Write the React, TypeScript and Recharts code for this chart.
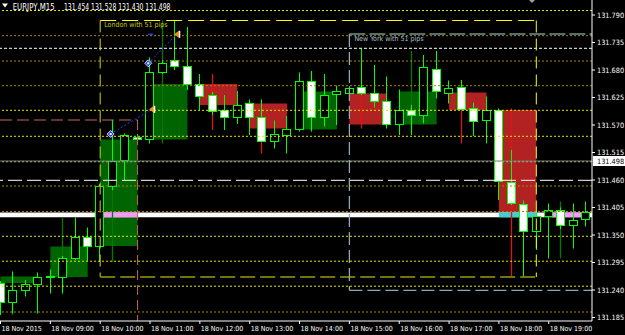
import React from "react";
import {
  ComposedChart,
  Bar,
  XAxis,
  YAxis,
  ReferenceLine,
  ReferenceArea,
  ReferenceDot,
} from "recharts";

// ---------------- DATA ----------------
const times = [
  "08:00", "08:15", "08:30", "08:45", "09:00", "09:15", "09:30", "09:45",
  "10:00", "10:15", "10:30", "10:45", "11:00", "11:15", "11:30", "11:45",
  "12:00", "12:15", "12:30", "12:45", "13:00", "13:15", "13:30", "13:45",
  "14:00", "14:15", "14:30", "14:45", "15:00", "15:15", "15:30", "15:45",
  "16:00", "16:15", "16:30", "16:45", "17:00", "17:15", "17:30", "17:45",
  "18:00", "18:15", "18:30", "18:45", "19:00", "19:15", "19:30", "19:45",
];
const opens = [
  131.254, 131.215, 131.239, 131.251, 131.266, 131.267, 131.303, 131.345,
  131.328, 131.448, 131.5, 131.546, 131.541, 131.675, 131.699, 131.689,
  131.652, 131.63, 131.6, 131.585, 131.613, 131.585, 131.537, 131.551,
  131.561, 131.658, 131.585, 131.631, 131.633, 131.645, 131.635, 131.618,
  131.571, 131.6, 131.589, 131.683, 131.635, 131.645, 131.603, 131.579,
  131.6, 131.455, 131.412, 131.357, 131.387, 131.4, 131.37, 131.381,
];
const highs = [
  131.258, 131.277, 131.26, 131.275, 131.281, 131.308, 131.385, 131.365,
  131.452, 131.58, 131.553, 131.552, 131.705, 131.7, 131.779, 131.766,
  131.672, 131.636, 131.63, 131.638, 131.621, 131.621, 131.579, 131.588,
  131.675, 131.678, 131.672, 131.649, 131.648, 131.722, 131.69, 131.667,
  131.641, 131.61, 131.71, 131.718, 131.659, 131.66, 131.615, 131.627,
  131.603, 131.52, 131.419, 131.397, 131.413, 131.405, 131.413, 131.417,
];
const lows = [
  131.19, 131.194, 131.227, 131.193, 131.233, 131.233, 131.3, 131.298,
  131.296, 131.44, 131.46, 131.536, 131.533, 131.672, 131.68, 131.64,
  131.6, 131.59, 131.56, 131.572, 131.55, 131.536, 131.523, 131.513,
  131.557, 131.557, 131.567, 131.57, 131.628, 131.63, 131.605, 131.563,
  131.55, 131.55, 131.573, 131.623, 131.613, 131.6, 131.548, 131.533,
  131.42, 131.41, 131.267, 131.32, 131.303, 131.362, 131.323, 131.367,
];
const closes = [
  131.216, 131.24, 131.252, 131.267, 131.268, 131.303, 131.345, 131.327,
  131.448, 131.498, 131.549, 131.541, 131.675, 131.695, 131.689, 131.652,
  131.629, 131.597, 131.587, 131.61, 131.585, 131.537, 131.552, 131.563,
  131.658, 131.585, 131.63, 131.637, 131.643, 131.635, 131.618, 131.571,
  131.6, 131.589, 131.685, 131.637, 131.643, 131.601, 131.578, 131.6,
  131.458, 131.413, 131.357, 131.387, 131.4, 131.37, 131.38, 131.395,
];

const xTickTimes = [
  "08:00", "09:00", "10:00", "11:00", "12:00", "13:00",
  "14:00", "15:00", "16:00", "17:00", "18:00", "19:00",
];
const xTickLabels = [
  "18 Nov 2015", "18 Nov 09:00", "18 Nov 10:00", "18 Nov 11:00",
  "18 Nov 12:00", "18 Nov 13:00", "18 Nov 14:00", "18 Nov 15:00",
  "18 Nov 16:00", "18 Nov 17:00", "18 Nov 18:00", "18 Nov 19:00",
];
const yTicks = [
  131.185, 131.24, 131.295, 131.35, 131.405, 131.46,
  131.515, 131.57, 131.625, 131.68, 131.735, 131.79,
];

// hourly boxes shown (session hours)
const boxHours = [
  "08:00", "09:00", "10:00", "11:00", "12:00", "13:00",
  "14:00", "15:00", "16:00", "17:00", "18:00",
];

const yellowLevels = [131.799, 131.5994, 131.5474, 131.4966, 131.3474, 131.2976, 131.2476];
const goldLevels = [131.7486, 131.698, 131.6486, 131.448, 131.397, 131.196];
const whiteDottedLevel = 131.7234;
const whiteDashedLevel = 131.4594;
const bidPrice = 131.498;
const symbolName = "EURJPY,M15";
const titleValues = ["131.454", "131.528", "131.430", "131.498"];

const bandLow = 131.3854;
const bandHigh = 131.395;
const bandSegFrom = [8.3, 40, 44.25];
const bandSegTo = [11.05, 43, 47];

const stopLevel = 131.58;
const stopTime = "10:45";

const londonStart = "10:00";
const londonEnd = "18:45";
const londonHigh = 131.779;
const londonLow = 131.266;
const nyStart = "15:00";
const nyHigh = 131.752;
const nyLow = 131.2394;

const tradeOpenBar = [8.84, 11.86];
const tradeOpenPrice = [131.552, 131.6934];
const tradeCloseBar = [12.13, 14.14];
const tradeClosePrice = [131.6014, 131.7514];

// ---------------- CONFIG ----------------
const X_MIN = -0.04;
const X_MAX = 47.47;
const Y_MIN = 131.178;
const Y_MAX = 131.82;
const FONT = "'DejaVu Sans Condensed', 'Liberation Sans', Arial, sans-serif";
const LIME = "#00ff00";
const BOX_UP = "#006400";
const BOX_DOWN = "#b22222";
const LINE_UP = "#007a00";
const LINE_DOWN = "#e01414";

const bi = (t: string) => times.indexOf(t);

type Row = {
  k: number;
  time: string;
  open: number;
  high: number;
  low: number;
  close: number;
  hourHigh?: number;
  hourLow?: number;
  hourColor?: string;
};

const rows: Row[] = times.map((t, i) => ({
  k: i,
  time: t,
  open: opens[i],
  high: highs[i],
  low: lows[i],
  close: closes[i],
}));

for (let h = 0; h * 4 < rows.length; h++) {
  const idx = [0, 1, 2, 3].map((j) => h * 4 + j).filter((i) => i < rows.length);
  const hh = Math.max(...idx.map((i) => highs[i]));
  const ll = Math.min(...idx.map((i) => lows[i]));
  const up = closes[idx[idx.length - 1]] >= opens[idx[0]];
  const target = rows[h * 4 + 1];
  if (target) {
    target.hourHigh = hh;
    target.hourLow = ll;
    target.hourColor = up ? LINE_UP : LINE_DOWN;
  }
}

const boxes = boxHours.map((t) => {
  const s = bi(t);
  const e = s + 3;
  const o = opens[s];
  const c = closes[e];
  return { x1: s, x2: e, y1: Math.min(o, c), y2: Math.max(o, c), up: c >= o };
});

const Candle = (props: any) => {
  const { x, y, width, height, payload } = props;
  if (x == null || y == null || !payload) return null;
  const top = Math.min(y, y + height);
  const bot = Math.max(y, y + height);
  const { open, close, high, low } = payload as Row;
  const ppu = (bot - top) / (high - low);
  const py = (p: number) => top + (high - p) * ppu;
  const cx = Math.floor(x + width / 2) + 0.5;
  const bTop = py(Math.max(open, close));
  const bBot = py(Math.min(open, close));
  const bull = close >= open;
  return (
    <g>
      {payload.hourHigh != null && (
        <line
          x1={cx}
          x2={cx}
          y1={py(payload.hourHigh)}
          y2={py(payload.hourLow)}
          stroke={payload.hourColor}
          strokeWidth={1.3}
        />
      )}
      <line x1={cx} x2={cx} y1={top} y2={bot} stroke={LIME} strokeWidth={1} />
      <rect
        x={cx - 4}
        y={Math.round(bTop) + 0.5}
        width={8}
        height={Math.max(1, Math.round(bBot) - Math.round(bTop))}
        fill={bull ? "#000000" : "#ffffff"}
        stroke={LIME}
        strokeWidth={1}
      />
    </g>
  );
};

const XTick = (props: any) => {
  const { x, y, payload } = props;
  const i = xTickTimes.map(bi).indexOf(payload.value);
  return (
    <text x={x + 1} y={y} dy={7} fill="#ffffff" fontSize={7} fontFamily={FONT} textAnchor="start">
      {xTickLabels[i] ?? ""}
    </text>
  );
};

const BuyMark = (p: any) => (
  <g>
    <path d={`M${p.cx - 3.5},${p.cy} L${p.cx},${p.cy - 3.5} L${p.cx + 3.5},${p.cy} L${p.cx},${p.cy + 3.5} Z`} fill="#1e3cff" stroke="#ffffff" strokeWidth={0.8} />
    <rect x={p.cx - 1} y={p.cy - 1} width={2} height={2} fill="#ffffff" />
  </g>
);
const CloseMark = (p: any) => (
  <g>
    <path d={`M${p.cx - 2.5},${p.cy} L${p.cx + 2},${p.cy - 3.5} L${p.cx + 2},${p.cy + 3.5} Z`} fill="#ff8c00" />
    <rect x={p.cx + 2} y={p.cy - 3.5} width={1.6} height={7} fill="#ffffff" />
  </g>
);

export default function App() {
  const lStart = bi(londonStart);
  const lEnd = bi(londonEnd);
  const nStart = bi(nyStart);
  const sT = bi(stopTime);
  const londonPips = Math.round((londonHigh - londonLow) * 100);
  const nyPips = Math.round((nyHigh - nyLow) * 100);
  const bandColors = ["#ff96ff", "#3cd2d2", "#ff96ff"];

  return (
    <div style={{ position: "fixed", left: 0, top: 0, width: 625, height: 335, background: "#000", overflow: "hidden" }}>
      <ComposedChart
        width={625}
        height={335}
        data={rows}
        margin={{ top: 0, right: 0, bottom: 0, left: 0 }}
        style={{ background: "#000" }}
      >
        <XAxis
          dataKey="k"
          type="number"
          domain={[X_MIN, X_MAX]}
          allowDataOverflow
          ticks={xTickTimes.map(bi)}
          interval={0}
          height={14}
          stroke="#ffffff"
          tickLine={{ stroke: "#ffffff" }}
          tickSize={3}
          tickMargin={0}
          tick={<XTick />}
        />
        <YAxis
          orientation="right"
          type="number"
          domain={[Y_MIN, Y_MAX]}
          allowDataOverflow
          ticks={yTicks}
          interval={0}
          width={33}
          stroke="#ffffff"
          tickSize={3}
          tickMargin={2}
          tick={{ fill: "#ffffff", fontSize: 7.3, fontFamily: FONT }}
          tickFormatter={(v: number) => v.toFixed(3)}
        />

        {boxes.map((b, i) => (
          <ReferenceArea
            key={"box" + i}
            x1={b.x1}
            x2={b.x2}
            y1={b.y1}
            y2={b.y2}
            fill={b.up ? BOX_UP : BOX_DOWN}
            fillOpacity={1}
            stroke="none"
          />
        ))}

        <ReferenceArea x1={X_MIN} x2={X_MAX} y1={bandLow} y2={bandHigh} fill="#ffffff" fillOpacity={1} stroke="none" />
        {bandSegFrom.map((f, i) => (
          <ReferenceArea key={"bs" + i} x1={f} x2={bandSegTo[i]} y1={bandLow} y2={bandHigh} fill={bandColors[i]} fillOpacity={1} stroke="none" />
        ))}

        {yellowLevels.map((v) => (
          <ReferenceLine key={"yl" + v} y={v} stroke="#e6e600" strokeDasharray="2 2" strokeWidth={1} />
        ))}
        {goldLevels.map((v) => (
          <ReferenceLine key={"gl" + v} y={v} stroke="#a88400" strokeDasharray="2 2" strokeWidth={1} />
        ))}
        <ReferenceLine y={whiteDottedLevel} stroke="#ffffff" strokeDasharray="3 2" />
        <ReferenceLine y={whiteDashedLevel} stroke="#ffffff" strokeDasharray="14 5" />
        <ReferenceLine y={bidPrice} stroke="#6a7a90" />

        <ReferenceLine segment={[{ x: X_MIN, y: stopLevel }, { x: sT, y: stopLevel }]} stroke="#c06464" strokeDasharray="12 5" />
        <ReferenceLine segment={[{ x: sT, y: stopLevel }, { x: sT, y: Y_MIN }]} stroke="#c06464" strokeDasharray="10 5" />

        <ReferenceLine segment={[{ x: lStart, y: londonHigh }, { x: lEnd, y: londonHigh }]} stroke="#ffff00" strokeDasharray="16 6" />
        <ReferenceLine segment={[{ x: lStart, y: londonHigh }, { x: lStart, y: londonLow }]} stroke="#d8d800" strokeDasharray="12 6" />
        <ReferenceLine segment={[{ x: lEnd, y: londonHigh }, { x: lEnd, y: londonLow }]} stroke="#ffff00" strokeDasharray="12 6" />
        <ReferenceLine segment={[{ x: lStart, y: londonLow }, { x: lEnd, y: londonLow }]} stroke="#9a9a10" strokeDasharray="15 5" strokeWidth={1.5} />

        <ReferenceLine segment={[{ x: nStart, y: nyHigh }, { x: X_MAX, y: nyHigh }]} stroke="#add8e6" strokeDasharray="16 4" />
        <ReferenceLine segment={[{ x: nStart, y: nyHigh }, { x: nStart, y: nyLow }]} stroke="#8fa8b8" strokeDasharray="13 5" strokeWidth={1.3} />
        <ReferenceLine segment={[{ x: nStart, y: nyLow }, { x: X_MAX, y: nyLow }]} stroke="#add8e6" strokeDasharray="13 5" />

        <Bar
          dataKey={(d: Row) => [d.low, d.high]}
          barSize={8}
          isAnimationActive={false}
          shape={(p: any) => <Candle {...p} />}
        />

        {tradeOpenBar.map((b, i) => (
          <ReferenceLine
            key={"tl" + i}
            segment={[{ x: b, y: tradeOpenPrice[i] }, { x: tradeCloseBar[i], y: tradeClosePrice[i] }]}
            stroke="#2040ff"
            strokeDasharray="2 2"
          />
        ))}
        <ReferenceLine segment={[{ x: 11.84, y: tradeClosePrice[1] }, { x: 12.24, y: tradeClosePrice[1] }]} stroke="#2040ff" strokeWidth={1.5} />
        {tradeOpenBar.map((b, i) => (
          <ReferenceDot key={"bo" + i} x={b} y={tradeOpenPrice[i]} r={3} shape={(p: any) => <BuyMark {...p} />} ifOverflow="visible" />
        ))}
        {tradeCloseBar.map((b, i) => (
          <ReferenceDot key={"bc" + i} x={b} y={tradeClosePrice[i]} r={3} shape={(p: any) => <CloseMark {...p} />} ifOverflow="visible" />
        ))}

        <ReferenceDot
          x={lStart}
          y={londonHigh}
          r={1}
          ifOverflow="visible"
          shape={(p: any) => (
            <text x={p.cx + 4} y={p.cy + 6} fill="#c8c800" fontSize={7} fontFamily={FONT}>
              {`London with ${londonPips} pips`}
            </text>
          )}
        />
        <ReferenceDot
          x={nStart}
          y={nyHigh}
          r={1}
          ifOverflow="visible"
          shape={(p: any) => (
            <text x={p.cx + 5} y={p.cy + 7} fill="#a8c0d0" fontSize={7} fontFamily={FONT}>
              {`New York with ${nyPips} pips`}
            </text>
          )}
        />
        <ReferenceDot
          x={X_MAX}
          y={bidPrice}
          r={1}
          ifOverflow="visible"
          shape={(p: any) => (
            <g>
              <rect x={p.cx + 1} y={p.cy - 5} width={33} height={10} fill="#ffffff" />
              <text x={p.cx + 5} y={p.cy + 2.5} fill="#000000" fontSize={7.3} fontFamily={FONT}>
                {bidPrice.toFixed(3)}
              </text>
            </g>
          )}
        />
      </ComposedChart>
      <svg width={625} height={14} style={{ position: "absolute", left: 0, top: 0, pointerEvents: "none" }}>
        <polygon points="2,3.5 8,3.5 5,7.5" fill="#ffffff" />
        <text x={12.7} y={9.8} fill="#ffffff" fontSize={8.2} fontFamily={FONT} textLength={42} lengthAdjust="spacingAndGlyphs">
          {symbolName}
        </text>
        <text x={64} y={9.8} fill="#ffffff" fontSize={8.2} fontFamily={FONT} textLength={106.5} lengthAdjust="spacingAndGlyphs">
          {titleValues.join(" ")}
        </text>
        <polygon points="529,0 535,0 532,3" fill="#9aa0a8" />
      </svg>
    </div>
  );
}
